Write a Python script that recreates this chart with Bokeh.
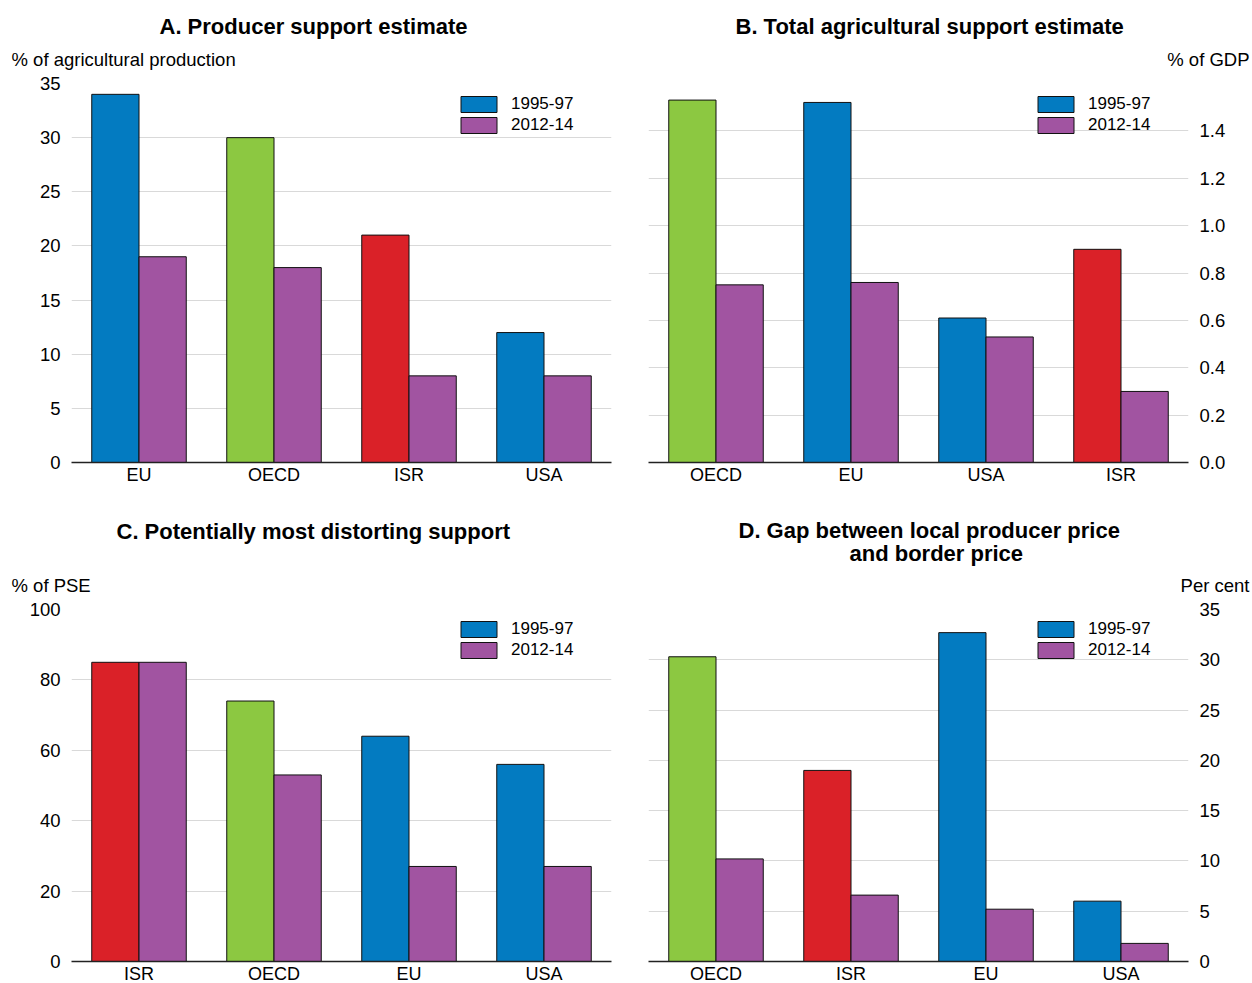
from bokeh.plotting import figure
from bokeh.models import (ColumnDataSource, FixedTicker, NumeralTickFormatter, Title,
                          Legend, LegendItem, Range1d)
from bokeh.layouts import column, row
from bokeh.transform import dodge
from bokeh.embed import file_html
from bokeh.resources import INLINE

FONT = "Liberation Sans"
BLUE = "#037BC1"
PURPLE = "#A154A1"
GREEN = "#8CC841"
RED = "#DA2128"
COUNTRY_COLORS = {"EU": BLUE, "USA": BLUE, "OECD": GREEN, "ISR": RED}

series_labels = ["1995-97", "2012-14"]

a_categories = ["EU", "OECD", "ISR", "USA"]
a_1995 = [34, 30, 21, 12]
a_2012 = [19, 18, 8, 8]

b_categories = ["OECD", "EU", "USA", "ISR"]
b_1995 = [1.53, 1.52, 0.61, 0.90]
b_2012 = [0.75, 0.76, 0.53, 0.30]

c_categories = ["ISR", "OECD", "EU", "USA"]
c_1995 = [85, 74, 64, 56]
c_2012 = [85, 53, 27, 27]

d_categories = ["OECD", "ISR", "EU", "USA"]
d_1995 = [30.3, 19.0, 32.7, 6.0]
d_2012 = [10.2, 6.6, 5.2, 1.8]

a_ticks = [0, 5, 10, 15, 20, 25, 30, 35]
b_ticks = [0.0, 0.2, 0.4, 0.6, 0.8, 1.0, 1.2, 1.4]
c_ticks = [0, 20, 40, 60, 80, 100]
d_ticks = [0, 5, 10, 15, 20, 25, 30, 35]

TOP_FRAME_H = 379
BOT_FRAME_H = 352


def make_panel(cats, v1, v2, titles, units, y_end, ticks, fmt, side, top_row):
    src = ColumnDataSource(dict(
        x=list(range(len(cats))), first=v1, second=v2,
        color=[COUNTRY_COLORS[c] for c in cats]))
    fh = TOP_FRAME_H if top_row else BOT_FRAME_H
    if side == "left":
        bl, br = 71, 17
        u_align, u_off = "left", -60
    else:
        bl, br = 20, 62
        u_align, u_off = "right", -61
    p = figure(frame_width=540, frame_height=fh,
               x_range=Range1d(-0.5, 3.5), y_range=Range1d(0, y_end),
               output_backend="svg", toolbar_location=None, tools="",
               y_axis_location=side, title=None,
               min_border_left=bl, min_border_right=br,
               min_border_top=83 if top_row else 114,
               min_border_bottom=33 if top_row else 22)
    p.outline_line_color = None
    p.background_fill_color = "white"

    r1 = p.vbar(x=dodge("x", -0.175, range=p.x_range), top="first", width=0.35,
                source=src, fill_color="color", line_color="#111111", line_width=1)
    r2 = p.vbar(x=dodge("x", 0.175, range=p.x_range), top="second", width=0.35,
                source=src, fill_color=PURPLE, line_color="#111111", line_width=1)

    p.xgrid.grid_line_color = None
    p.ygrid.grid_line_color = "#d9d9d9"
    p.ygrid.grid_line_width = 1

    p.yaxis.ticker = FixedTicker(ticks=ticks)
    if fmt:
        p.yaxis.formatter = NumeralTickFormatter(format=fmt)
    p.yaxis.axis_line_color = None
    p.yaxis.major_tick_line_color = None
    p.yaxis.minor_tick_line_color = None
    p.yaxis.major_tick_out = 0
    p.yaxis.major_label_standoff = 11
    p.yaxis.major_label_text_font = FONT
    p.yaxis.major_label_text_font_size = "18.5px"
    p.yaxis.major_label_text_color = "#000000"

    p.xaxis.ticker = FixedTicker(ticks=list(range(len(cats))))
    p.xaxis.major_label_overrides = {i: c for i, c in enumerate(cats)}
    p.xaxis.axis_line_color = "#222222"
    p.xaxis.axis_line_width = 1.5
    p.xaxis.major_tick_line_color = None
    p.xaxis.minor_tick_line_color = None
    p.xaxis.major_tick_out = 0
    p.xaxis.minor_tick_out = 0
    p.xaxis.major_label_standoff = 2
    p.xaxis.major_label_text_font = FONT
    p.xaxis.major_label_text_font_size = "18px"
    p.xaxis.major_label_text_color = "#000000"

    blue_idx = [COUNTRY_COLORS[c] for c in cats].index(BLUE)
    leg_h = 41
    top_gap = 11 if top_row else 10
    legend = Legend(items=[LegendItem(label=series_labels[0], renderers=[r1], index=blue_idx),
                           LegendItem(label=series_labels[1], renderers=[r2], index=0)],
                    location=(385, fh - top_gap - leg_h),
                    glyph_width=45, glyph_height=20, label_height=20,
                    label_standoff=10, spacing=1, padding=0, margin=0,
                    border_line_color=None, background_fill_alpha=0,
                    label_text_font=FONT, label_text_font_size="17px",
                    label_text_color="#000000")
    p.add_layout(legend)

    ut = Title(text=units, align=u_align, offset=u_off, text_font=FONT,
               text_font_size="18.5px", text_font_style="normal",
               text_color="#000000", standoff=27)
    p.add_layout(ut, "above")
    for text, off, so in titles:
        mt = Title(text=text, align="left", offset=off, text_font=FONT,
                   text_font_size="22px", text_font_style="bold",
                   text_color="#000000", standoff=so)
        p.add_layout(mt, "above")
    return p


pa = make_panel(a_categories, a_1995, a_2012,
                [("A. Producer support estimate", 88, -11)],
                "% of agricultural production", 35, a_ticks, None, "left", True)
pb = make_panel(b_categories, b_1995, b_2012,
                [("B. Total agricultural support estimate", 87, -11)],
                "% of GDP", 1.6, b_ticks, "0.0", "right", True)
pc = make_panel(c_categories, c_1995, c_2012,
                [("C. Potentially most distorting support", 45, 32)],
                "% of PSE", 100, c_ticks, None, "left", False)
pd_ = make_panel(d_categories, d_1995, d_2012,
                 [("and border price", 201, -13),
                  ("D. Gap between local producer price", 90, 6)],
                 "Per cent", 35, d_ticks, None, "right", False)

layout = column(row(pa, pb), row(pc, pd_))

open("out.html", "w").write(file_html(layout, INLINE))
